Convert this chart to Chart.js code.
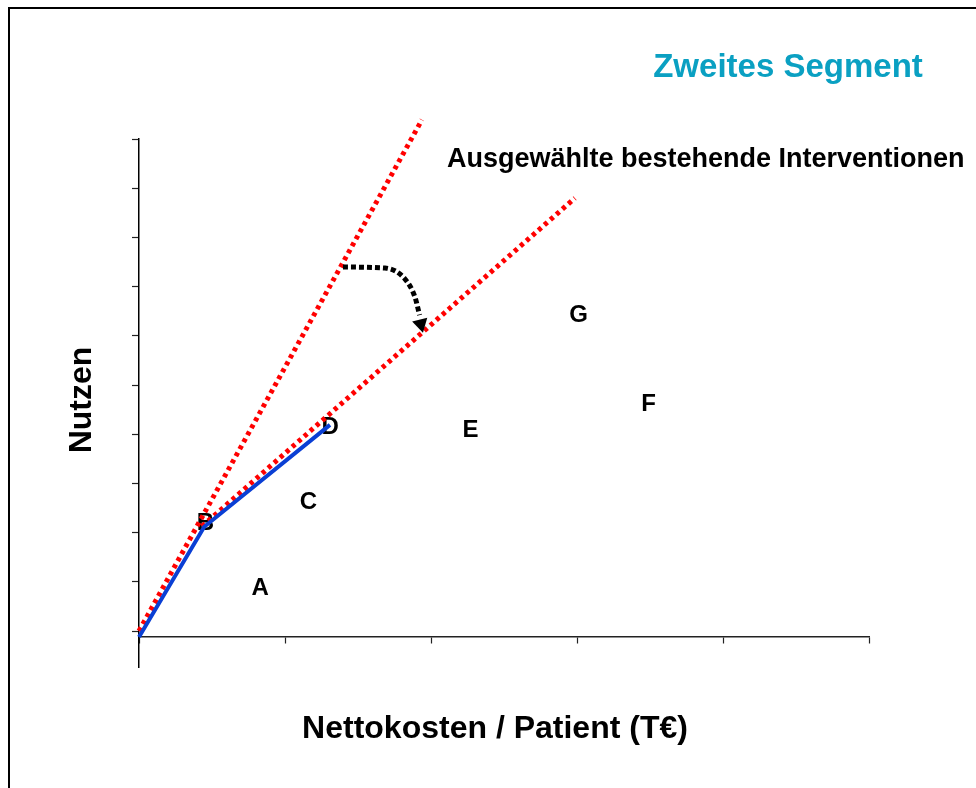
<!DOCTYPE html>
<html><head><meta charset="utf-8">
<script src="https://cdn.jsdelivr.net/npm/chart.js@4/dist/chart.umd.min.js"></script>
<style>
html,body{margin:0;padding:0;background:#fff;}
#wrap{position:relative;width:976px;height:788px;overflow:hidden;background:#fff;}
#frame{position:absolute;left:8px;top:7px;width:990px;height:800px;border-left:2px solid #000;border-top:2px solid #000;}
canvas{position:absolute;left:0;top:0;}
</style></head><body>
<div id="wrap"><div id="frame"></div><canvas id="c" width="976" height="788"></canvas></div>
<script>
// ---- data ----
const pointLabels = ['A', 'B', 'C', 'D', 'E', 'F', 'G'];
const pointX = [0.83, 0.455, 1.16, 1.31, 2.27, 3.49, 3.01];
const pointY = [0.90, 2.23, 2.66, 4.17, 4.11, 4.64, 6.46];

const frontierX = [0, 0.447, 1.308];
const frontierY = [-0.12, 2.12, 4.19];

const ray1X = [0, 1.938];
const ray1Y = [0, 10.39];
const ray2X = [0.432, 2.986];
const ray2Y = [2.13, 8.80];

const arrowX = [1.397, 1.685, 1.822, 1.890, 1.922];
const arrowY = [7.398, 7.378, 7.154, 6.789, 6.42];
const arrowHeadX = [1.93];
const arrowHeadY = [6.24];

const xTicks = [0, 1, 2, 3, 4, 5];
const yTicks = [0, 1, 2, 3, 4, 5, 6, 7, 8, 9, 10];

const chartTitle = 'Zweites Segment';
const noteText = 'Ausgewählte bestehende Interventionen';
const xTitle = 'Nettokosten / Patient (T€)';
const yTitle = 'Nutzen';

const pts = (xs, ys) => xs.map((x, i) => ({x: x, y: ys[i]}));
const FONT = '"Liberation Sans", Arial, sans-serif';

const labelPlugin = {
  id: 'labels',
  beforeDatasetsDraw(chart) {
    const ctx = chart.ctx, sx = chart.scales.x, sy = chart.scales.y;
    ctx.save();
    ctx.fillStyle = '#000';
    ctx.font = 'bold 24px ' + FONT;
    ctx.textAlign = 'center';
    ctx.textBaseline = 'alphabetic';
    pointLabels.forEach((t, i) => {
      ctx.fillText(t, sx.getPixelForValue(pointX[i]), sy.getPixelForValue(pointY[i]) + 8.5);
    });
    ctx.restore();
  },
  afterDraw(chart) {
    const ctx = chart.ctx;
    ctx.save();
    ctx.textBaseline = 'alphabetic';
    ctx.fillStyle = '#0aa0c2';
    ctx.font = 'bold 33px ' + FONT;
    ctx.textAlign = 'center';
    ctx.fillText(chartTitle, 788, 77);
    ctx.fillStyle = '#000';
    ctx.font = 'bold 27px ' + FONT;
    ctx.textAlign = 'left';
    ctx.fillText(noteText, 447, 167);
    ctx.font = 'bold 32px ' + FONT;
    ctx.textAlign = 'center';
    ctx.fillText(xTitle, 495, 738);
    ctx.translate(91, 400);
    ctx.rotate(-Math.PI / 2);
    ctx.fillText(yTitle, 0, 0);
    ctx.restore();
  }
};

new Chart(document.getElementById('c'), {
  type: 'scatter',
  data: {
    datasets: [
      {data: pts(arrowHeadX, arrowHeadY), showLine: false, pointStyle: 'triangle', rotation: 166,
       pointRadius: 9, backgroundColor: '#000', borderColor: '#000', borderWidth: 0, clip: false},
      {data: pts(arrowX, arrowY), showLine: true, borderColor: '#000', borderWidth: 5,
       borderDash: [5, 3], borderCapStyle: 'butt', cubicInterpolationMode: 'monotone', pointRadius: 0, clip: false},
      {data: pts(frontierX, frontierY), showLine: true, borderColor: '#0a3fd4', borderWidth: 4,
       pointRadius: 0, clip: false},
      {data: pts(ray2X, ray2Y), showLine: true, borderColor: '#ff0000', borderWidth: 5,
       borderDash: [4, 4], borderCapStyle: 'butt', pointRadius: 0, clip: false},
      {data: pts(ray1X, ray1Y), showLine: true, borderColor: '#ff0000', borderWidth: 5,
       borderDash: [4, 4], borderCapStyle: 'butt', pointRadius: 0, clip: false}
    ]
  },
  options: {
    responsive: false,
    animation: false,
    events: [],
    layout: {padding: {left: 0, top: 139, right: 107, bottom: 121}},
    plugins: {legend: {display: false}, tooltip: {enabled: false}, title: {display: false}},
    scales: {
      x: {
        type: 'linear', min: 0, max: 5,
        position: {y: -0.12},
        border: {color: '#222', width: 1.5},
        grid: {drawOnChartArea: false, drawTicks: true, tickLength: 6, color: '#222', tickWidth: 1.2},
        ticks: {display: false},
        afterBuildTicks(s) { s.ticks = xTicks.map(v => ({value: v})); }
      },
      y: {
        type: 'linear', min: -0.73, max: 10,
        position: 'left',
        border: {color: '#000', width: 1.5},
        grid: {drawOnChartArea: false, drawTicks: true, tickLength: 7, color: '#222', tickWidth: 1.2},
        ticks: {display: false},
        afterBuildTicks(s) { s.ticks = yTicks.map(v => ({value: v})); },
        afterFit(s) { s.width = 139; }
      }
    }
  },
  plugins: [labelPlugin]
});
</script>
</body></html>
